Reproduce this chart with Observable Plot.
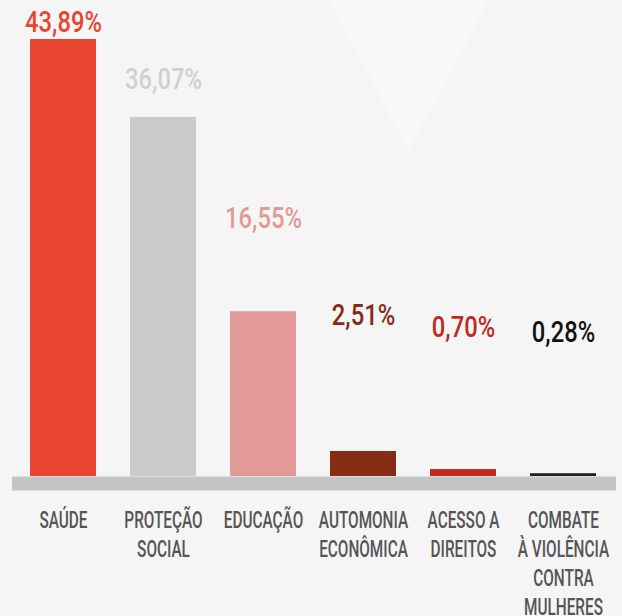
<!DOCTYPE html>
<html><head><meta charset="utf-8">
<script src="https://cdn.jsdelivr.net/npm/d3@7"></script>
<script src="https://cdn.jsdelivr.net/npm/@observablehq/plot@0.6"></script>
<style>
html,body{margin:0;padding:0;background:#f5f5f5;}
#chart{position:relative;width:622px;height:616px;overflow:hidden;background:#f5f5f5;}
#chart::before{content:"";position:absolute;left:329px;top:0;width:160px;height:150px;background:#f9f9f9;clip-path:polygon(0 0,100% 0,50% 100%);}
#chart svg{position:relative;display:block;}
</style></head><body><div id="chart"></div>
<script>
const categories = ["SAÚDE","PROTEÇÃO\nSOCIAL","EDUCAÇÃO","AUTOMONIA\nECONÔMICA","ACESSO A\nDIREITOS","COMBATE\nÀ VIOLÊNCIA\nCONTRA\nMULHERES"];
const values = [43.89, 36.07, 16.55, 2.51, 0.70, 0.28];
const valueLabels = ["43,89%","36,07%","16,55%","2,51%","0,70%","0,28%"];
const labelPositions = [44.6, 38.9, 25.0, 15.2, 14.0, 13.5];
const barColors = ["#e84530","#cbc9ca","#e29a98","#842d14","#c0291f","#222222"];
const labelColors = ["#e84530","#d0d0d0","#e29a98","#842d14","#c0291f","#111111"];

const data = categories.map((c, i) => ({c, v: values[i], label: valueLabels[i], ly: labelPositions[i], bc: barColors[i], lc: labelColors[i]}));

const chart = Plot.plot({
  width: 622, height: 616,
  marginLeft: 12, marginRight: 6, marginTop: 0, marginBottom: 126,
  style: {background: "transparent", fontFamily: "Roboto, sans-serif"},
  x: {domain: categories, range: [29, 597], paddingInner: 0.343, paddingOuter: 0, axis: null},
  y: {domain: [0, 43.89], range: [476, 39], axis: null},
  color: {type: "identity"},
  marks: [
    Plot.barY(data, {x: "c", y: "v", fill: "bc"}),
    Plot.ruleY([0], {stroke: "#c4c4c4", strokeWidth: 14, dy: 7}),
    Plot.text(data, {x: "c", y: "ly", text: "label", fill: "lc", fontSize: 29, fontWeight: 500, lineAnchor: "bottom"}),
    Plot.axisX({anchor: "bottom", label: null, tickSize: 0, tickPadding: 17, fontSize: 24, fontWeight: 500, lineHeight: 29/24, color: "#555555"})
  ]
});
document.getElementById("chart").appendChild(chart);

function condense(sel, s) {
  sel.each(function() {
    const t = this.getAttribute("transform") || "";
    const x = +(this.getAttribute("x") || 0);
    this.setAttribute("transform", `${t} translate(${x},0) scale(${s},1) translate(${-x},0)`);
  });
}
const svg = d3.select(chart);
condense(svg.selectAll('g[aria-label="text"] text'), 0.82);
condense(svg.selectAll('g[aria-label="x-axis tick label"] text'), 0.64);
</script></body></html>
